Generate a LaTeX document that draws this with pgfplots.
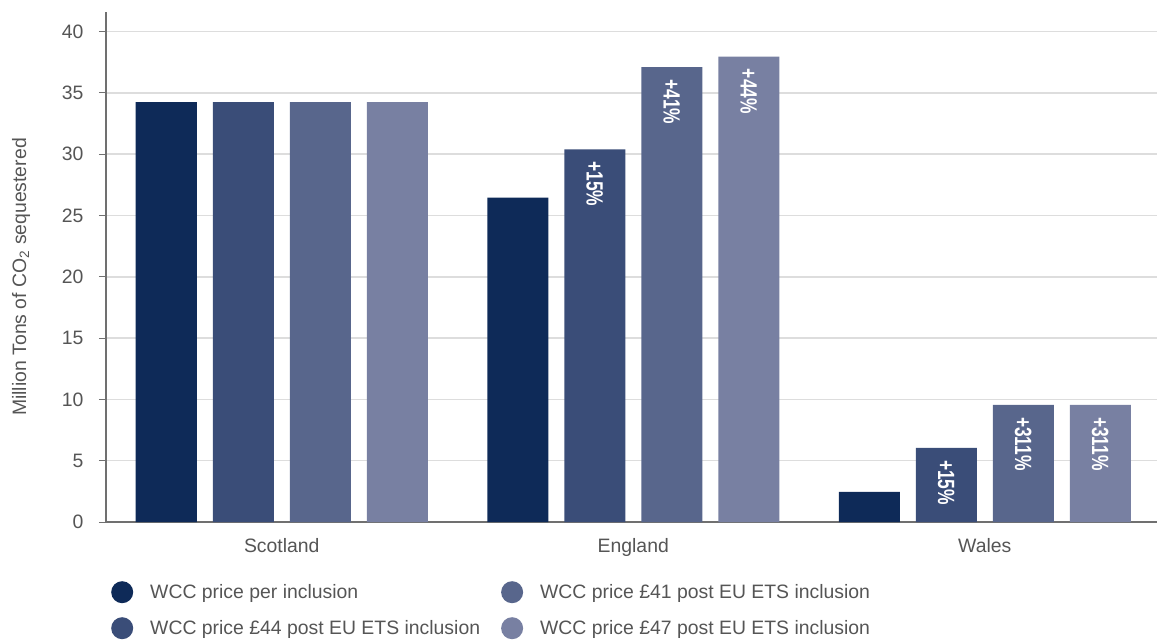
\documentclass[border=0pt]{standalone}
\usepackage{pgfplots}
\pgfplotsset{compat=1.18}
\usepackage{fontspec}
\setmainfont{Liberation Sans}
\newfontfamily\labfont{Liberation Sans Bold}[FakeStretch=0.74]
\definecolor{c1}{HTML}{0E2A58}
\definecolor{c2}{HTML}{3A4D78}
\definecolor{c3}{HTML}{58668C}
\definecolor{c4}{HTML}{7880A2}
\definecolor{txt}{HTML}{555555}
\definecolor{gridc}{HTML}{DDDDDD}
\definecolor{axc}{HTML}{707070}
\newcommand\bfont{\fontsize{19.4}{22}\selectfont}
\begin{document}
\begin{tikzpicture}
\begin{axis}[
  name=ax,
  scale only axis, width=1051pt, height=510pt,
  xmin=-0.5, xmax=2.49, ymin=0, ymax=41.6,
  axis x line*=bottom, axis y line*=left,
  axis line style={axc, line width=1.2pt},
  ytick={0,5,...,40}, xtick={0,1,2}, xticklabels={Scotland,England,Wales},
  major x tick style={draw=none},
  major y tick style={axc, line width=1pt},
  tick align=outside, major tick length=7pt,
  ymajorgrids, grid style={gridc, line width=1.5pt},
  /pgf/number format/assume math mode=true,
  tick label style={font=\bfont, text=txt},
  yticklabel style={xshift=-12pt},
  xticklabel style={yshift=-6pt},
  ylabel={Million Tons of CO\textsubscript{2} sequestered},
  every axis y label/.style={at={(rel axis cs:0,0.5)}, anchor=center, xshift=-85pt, yshift=-10pt, rotate=90, font=\bfont, text=txt},
  ybar=16pt, bar width=61pt,
  point meta=explicit symbolic,
  every node near coord/.append style={rotate=-90, anchor=west, font=\labfont\fontsize{23.5}{25}\selectfont, text=white, inner xsep=12pt},
  legend columns=2, transpose legend,
  legend cell align=left,
  legend style={draw=none, fill=none, at={(0,0)}, anchor=north west, xshift=5pt, yshift=-59pt,
    font=\bfont, text=txt, inner sep=0pt, row sep=14pt, column sep=0pt,
    /tikz/every odd column/.append style={column sep=15pt},
    /tikz/every even column/.append style={column sep=19pt}},
]
\addplot[fill=c1, draw=none, legend image code/.code={\fill[c1] (11pt,0pt) circle (11pt);}]
  coordinates {(0,34.25) (1,26.45) (2,2.45)};
\addlegendentry{WCC price per inclusion}
\addplot[fill=c2, draw=none, nodes near coords, legend image code/.code={\fill[c2] (11pt,0pt) circle (11pt);}]
  coordinates {(0,34.25) [] (1,30.4) [+15\%] (2,6.05) [+15\%]};
\addlegendentry{WCC price £44 post EU ETS inclusion}
\addplot[fill=c3, draw=none, nodes near coords, legend image code/.code={\fill[c3] (11pt,0pt) circle (11pt);}]
  coordinates {(0,34.25) [] (1,37.1) [+41\%] (2,9.55) [+311\%]};
\addlegendentry{WCC price £41 post EU ETS inclusion}
\addplot[fill=c4, draw=none, nodes near coords, legend image code/.code={\fill[c4] (11pt,0pt) circle (11pt);}]
  coordinates {(0,34.25) [] (1,37.95) [+44\%] (2,9.55) [+311\%]};
\addlegendentry{WCC price £47 post EU ETS inclusion}
\end{axis}
\pgfresetboundingbox
\path ([xshift=-106pt,yshift=-121pt]ax.south west) rectangle ++(1157pt,643pt);
\end{tikzpicture}
\end{document}
